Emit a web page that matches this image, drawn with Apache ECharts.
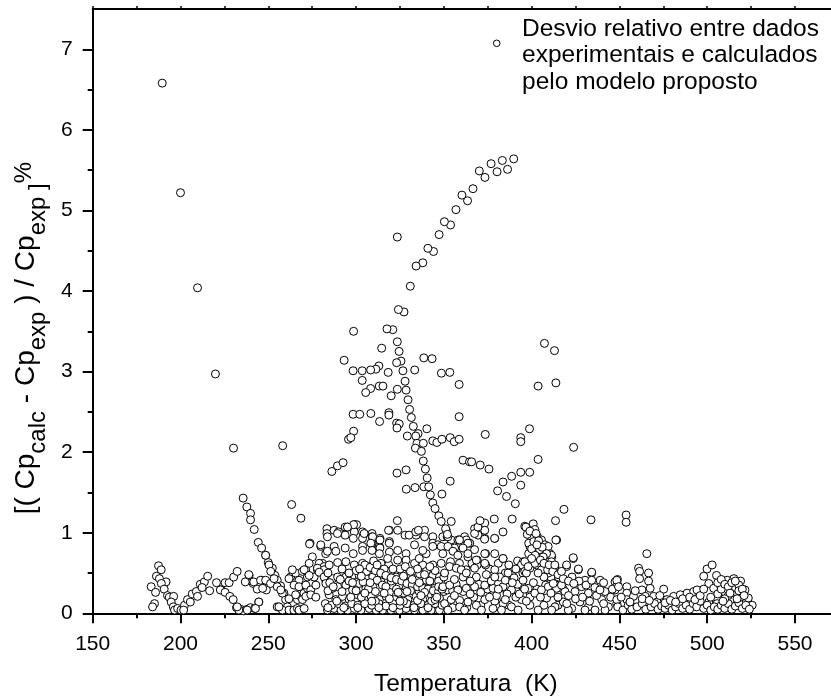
<!DOCTYPE html>
<html><head><meta charset="utf-8">
<script src="https://cdn.jsdelivr.net/npm/echarts@6/dist/echarts.min.js"></script>
<style>html,body{margin:0;padding:0;background:#fff}#c{width:831px;height:698px}</style>
</head><body><div id="c"></div>
<script>
// ---- tick labels / axis values ----
const xMajorTicks = [150,200,250,300,350,400,450,500,550];
const xMinorTicks = [175,225,275,325,375,425,475,525];
const xTopTicks = [150,175,200,225,250,275,300,325,350,375,400,425,450,475,500,525,550];
const yMajorTicks = [0,1,2,3,4,5,6,7];
const yMinorTicks = [0.5,1.5,2.5,3.5,4.5,5.5,6.5];
const seriesName = 'Desvio relativo entre dados experimentais e calculados pelo modelo proposto';
const legendLines = ['Desvio relativo entre dados','experimentais e calculados','pelo modelo proposto'];
const xTitle = 'Temperatura  (K)';

// ---- data: [Temperatura (K), desvio %] ----
const upperOutliers = [[189.6,6.58],[200,5.22],[209.7,4.04],[219.9,2.97],[230.2,2.05],[258.2,2.08],[263.3,1.35],[268.6,1.18],[273.5,0.86]];
const upperTrail = [[389.8,5.64],[383.3,5.62],[386.3,5.51],[380.3,5.48],[376.9,5.58],[373.4,5.41],[370.2,5.49],[366.6,5.27],[363.5,5.12],[360.3,5.19],[356.9,5.01],[353.8,4.82],[350.3,4.86],[347.3,4.70],[344.1,4.49],[340.9,4.53],[338,4.35],[334.2,4.31],[330.9,4.06],[323.5,4.67],[327.3,3.74],[324.1,3.77],[320.9,3.52],[317.6,3.53],[298.6,3.50],[323.5,3.37],[314.6,3.29],[324.5,3.25],[293.2,3.14],[325.6,3.13],[323.1,3.11],[313,3.07],[311.3,3.03],[308.3,3.02],[303.5,3.01],[298.3,3.01],[318.3,2.99],[326.7,3.01],[333.4,3.02],[338.6,3.17],[343.3,3.16],[348.6,2.98],[353.4,2.99],[358.7,2.84],[303.5,2.89],[308.3,2.79],[305.5,2.74],[313.2,2.82],[315.3,2.82],[323.5,2.78],[327.9,2.88],[328.5,2.77],[320,2.70]];
const middleCluster = [[329.6,2.65],[330.5,2.53],[331.5,2.43],[332.6,2.32],[335.3,2.23],[329.2,2.20],[334,2.2],[334.7,2.11],[338.3,2.11],[333.8,2.05],[337.2,2.01],[338.3,1.89],[339.5,1.79],[340.5,1.68],[338.6,1.57],[341.4,1.57],[342.3,1.47],[343.7,1.37],[345,1.3],[347.1,1.21],[348.5,1.14],[351,1.05],[352,0.98],[358.7,2.44],[360.9,1.90],[364.6,1.88],[353.6,1.64],[348.9,1.48],[340.3,2.29],[343.7,2.14],[346,2.12],[348.9,2.16],[353.6,2.18],[355.9,2.13],[358.7,2.16],[323.1,2.36],[324.6,2.35],[323.3,2.30],[318.7,2.49],[318.7,2.46],[313.4,2.38],[308.4,2.48],[298.3,2.47],[302.1,2.47],[298.6,2.26],[295.7,2.16],[297,2.18],[286.2,1.76],[289.4,1.83],[292.6,1.87],[323.3,1.74],[328.5,1.78],[328.6,1.54],[333.6,1.56],[323.5,1.15]];
const rightCluster = [[403.7,2.82],[413.8,2.86],[407.3,3.35],[413,3.26],[373.6,2.22],[393.8,2.18],[393.8,2.13],[398.8,2.29],[423.9,2.06],[403.7,1.91],[365.8,1.88],[370.7,1.84],[375.7,1.79],[380.6,1.52],[385.7,1.45],[390.7,1.36],[383.7,1.63],[388.6,1.70],[393.8,1.75],[398.9,1.75],[393.8,1.59],[418.4,1.29],[413.6,1.15],[433.8,1.16],[453.8,1.22],[453.8,1.13],[465.6,0.74],[378.7,1.17],[388.9,1.17],[370.6,1.15],[354.2,1.14]];
const lowLeft = [[183.3,0.33],[185.8,0.26],[185.2,0.12],[184.1,0.08],[187.5,0.59],[189,0.54],[186.3,0.46],[188,0.43],[191.8,0.39],[189.1,0.37],[190.7,0.30],[192.6,0.22],[193.6,0.20],[196.1,0.21],[194.7,0.14],[195.9,0.08],[196.6,0.04],[198.4,0.06],[200.3,0.04],
[202.3,0.10],[201.8,0.04],[204,0.17],[205.6,0.14],[206.7,0.24],[209,0.27],[209.7,0.21],[211.3,0.36],[213.6,0.39],[212.3,0.32],[215.5,0.46],[216.6,0.28],[220.5,0.38],[223.1,0.29],[225.4,0.38],[227.7,0.38],[230.3,0.45],[232.3,0.52],
[222.7,0.29],[225.4,0.26],[228.1,0.21],[230,0.17],[231.9,0.07],[234.2,0.05],[236.1,0.03],[238,0.05],[239.9,0.07],[242.2,0.06],[244.6,0.14],
[236.9,0.39],[239.1,0.47],[241.4,0.37],[243.7,0.30],[246.3,0.41],[247.5,0.40],[248.9,0.29],[246.8,0.31]];
const trail235 = [[235.7,1.43],[237.8,1.32],[239.9,1.24],[239.9,1.16],[242,1.04],[244.3,0.88],[246.2,0.81],[248.5,0.72],[250,0.63],[252.3,0.56],[253.8,0.47],[255.1,0.41],[257,0.34],[258.9,0.25],[259.9,0.17],[260.9,0.08]];
const lowMidLeft = [[238.9,0.48],[241.7,0.39],[245.6,0.41],[248.5,0.41],[251.3,0.37],[255.1,0.33],[258,0.25],[244.6,0.14],[242.7,0.06],[238,0.04],[233.2,0.04],[232.3,0.08],[255.1,0.08],[258,0.04],[261.8,0.04],[264.6,0.04],[266.6,0.06],[266.6,0.17],[268.5,0.21],[270.3,0.25],[272.3,0.31],[274.2,0.37],[276.1,0.45],[278,0.54],[280.9,0.62],[262.7,0.45],[265.6,0.50],[267.5,0.41],[269.4,0.52],[271.3,0.54],[272.3,0.45],[278,0.56],[279,0.62],[281.8,0.58],[282.7,0.41]];
const band250to350 = [[283.4,1.05],[283.4,0.99],[287.5,1.03],[290,1.01],[293.8,1.07],[295.2,1.07],[297.1,1.07],[299,1.10],[300.3,1.10],[299,1.01],[303.7,1.01],[293.8,0.97],[298.4,0.93],[303.7,0.93],[309.1,0.99],[309.1,0.95],[313.6,0.93],[319,1.03],[319,0.89],[309.1,0.87],[313.3,0.83],[334.2,0.97],[339,1.03],[339,0.95],[343.7,0.95],[343.7,0.87],
[327.9,0.97],[330.2,0.97],[334,1.01],[335.5,1.03],[346.6,0.85],[349.4,0.95],[351.9,0.95],[354.2,0.91],[356.1,0.81],[353.8,0.64],[358.6,0.91],[361.8,0.95],[364.6,0.87],[363.7,0.79],[339.9,0.74],[323.7,1.03],[318.9,0.87],[313.6,0.91],[313.6,0.81],[309.4,0.95],[308.4,0.87],[304.6,0.99],[303.7,0.83],[298.6,1.10],[295.1,1.07],[289.4,0.99],[287.5,0.83],[283.7,0.95],[282.7,0.74],[279.9,0.83],[273.8,0.87],[275.1,0.70],[318.5,1.03],
[279.9,0.85],[283.7,0.77],[288.5,0.77],[293.8,0.81],[298.4,0.74],[303.7,0.78],[309.1,0.78],[313.3,0.74],[319,0.76],[323.7,0.78],[328.5,0.74],[333.3,0.85],[338,0.78],[343.7,0.83],[348.5,0.83],[349.4,0.74],
[248.5,0.72],[250.4,0.60],[273.3,0.62],[278,0.56],[281.8,0.54],[284.7,0.60],[289.5,0.63],[294.2,0.64],[299,0.60],[303.7,0.62],[307.5,0.58],[309.5,0.56],[314.2,0.62],[318.6,0.60],[323.7,0.66],[328.5,0.66],[333.3,0.62],[338,0.60],[343.7,0.60],[348.5,0.62],
[251.4,0.52],[263.7,0.54],[270.4,0.54],[273.3,0.47],[279,0.51],[281.8,0.45],[286.6,0.43],[289.5,0.45],[294.2,0.45],[298,0.47],[301.8,0.47],[305.6,0.43],[309.5,0.45],[313.3,0.47],[318,0.52],[322.8,0.45],[326.6,0.49],[331.4,0.45],[336.2,0.49],[340,0.52],[343.7,0.47],[347.5,0.45],
[253.3,0.43],[257.1,0.29],[261.8,0.43],[264.7,0.35],[267.5,0.33],[271.4,0.35],[274.2,0.29],[277.1,0.35],[282.8,0.37],[286.6,0.31],[289.5,0.33],[294.2,0.35],[298,0.29],[301.8,0.37],[305.6,0.31],[309.5,0.33],[314.2,0.39],[317.1,0.29],[320.9,0.33],[324.7,0.35],[328.5,0.31],[333.3,0.33],[338,0.33],[341.8,0.35],[344.7,0.31],[348.5,0.37],
[261.8,0.18],[265.6,0.23],[269.5,0.17],[271.4,0.21],[274.2,0.23],[277.1,0.20],[284.7,0.23],[288.5,0.17],[292.3,0.21],[296.1,0.17],[300.9,0.23],[304.7,0.17],[308.5,0.21],[313.3,0.17],[317.1,0.21],[321.8,0.17],[325.6,0.23],[329.5,0.17],[334.2,0.21],[338,0.17],[342.8,0.23],[347.5,0.19],
[256.1,0.08],[267.5,0.04],[270.4,0.06],[283.7,0.04],[287.5,0.06],[291.4,0.04],[295.2,0.04],[299,0.06],[302.8,0.04],[307.5,0.06],[311.4,0.04],[315.2,0.04],[319.9,0.04],[324.7,0.04],[328.5,0.06],[333.3,0.04],[338,0.04],[342.8,0.04],[347.5,0.04],
[282.5,0.12],[286,0.10],[290,0.12],[294,0.09],[297.5,0.12],[301,0.10],[305,0.12],[309,0.10],[313,0.12],[317,0.09],[321,0.12],[325,0.10],[329,0.12],[333,0.10],[337,0.12],[341,0.10],[345,0.12],[349,0.10],
[284,0.28],[292,0.27],[300,0.28],[311,0.27],[319,0.26],[327,0.25],[336,0.27],[345,0.25],
[285,0.38],[296,0.40],[304,0.39],[312,0.41],[320,0.40],[330,0.39],[340,0.41],[347,0.40],
[284,0.5],[292,0.55],[300,0.53],[306,0.52],[316,0.55],[325,0.55],[335,0.55],[345,0.53],
[305,0.6],[308,0.57],[311,0.53],[314,0.5],[317,0.47],[320,0.44],[323,0.42],[326,0.4],[329,0.37],[332,0.35],[335,0.33],[338,0.31],[341,0.3],[344,0.28],[347,0.27],[350,0.27],[352,0.29],[355,0.28],[358,0.3],[361,0.27],
[303,0.2],[307,0.3],[311,0.15],[315,0.35],[319,0.18],[323,0.3],[327,0.15],[331,0.28],[335,0.16],[339,0.26],[343,0.15],[347,0.33],[298,0.38],[302,0.55],[310,0.65],[318,0.68],[328,0.58],[336,0.68],[342,0.4],[331,0.52]];
const denseCore = [[284,0.07],[289,0.15],[293,0.07],[297,0.2],[301,0.07],[305,0.25],[309,0.15],[313,0.07],[317,0.33],[321,0.07],[325,0.15],[329,0.27],[333,0.07],[337,0.22],[341,0.07],[345,0.17],[349,0.3],
[287,0.33],[291,0.42],[296,0.5],[303,0.46],[308,0.38],[312,0.6],[316,0.25],[321,0.55],[324,0.26],[327,0.46],[332,0.42],[336,0.38],[339,0.48],[342,0.58],[346,0.2],[350,0.45],
[355,0.07],[359,0.16],[363,0.07],[367,0.2],[371,0.1],[375,0.3],[379,0.15],[383,0.22],[387,0.1],[391,0.3],[395,0.22],[399,0.2],[403,0.3],[407,0.1],[411,0.4],[415,0.1],[419,0.2],
[357,0.36],[361,0.45],[366,0.62],[370,0.36],[376,0.55],[381,0.62],[385,0.5],[389,0.47],[392,0.65],[395,0.5],[408,0.35],[411,0.45],[414,0.35],[418,0.3]];
const band350to450 = [[351.4,1.03],[352.3,0.95],[358,0.91],[362.8,0.91],[364.7,0.87],[367.5,1.05],[369.5,0.97],[373.3,1.12],[373.3,1.03],[373.3,0.93],[379,0.93],[383.7,1.01],[396.1,1.08],[414.2,0.91],
[358.9,0.91],[363.7,0.87],[367.5,0.99],[369.4,1.07],[373.2,0.92],[378.9,0.93],[383.7,0.68],[373.8,0.74],[373.8,0.60],[369,0.66],[369,0.60],[362.7,0.54],[358.9,0.62],[363.7,0.70],
[352.3,0.83],[355.2,0.77],[358,0.72],[360.9,0.81],[363.7,0.74],[367.5,0.79],[368.5,0.66],[373.3,0.74],[379,0.74],[383.7,0.68],[395.2,0.64],[399,0.83],[399.9,0.77],[403.7,0.83],[405.6,0.77],[407.5,0.72],[410.4,0.74],[411.4,0.70],[423.7,0.68],
[350.4,0.50],[353.3,0.58],[357.1,0.56],[359.9,0.54],[362.8,0.50],[367.5,0.56],[368.5,0.45],[373.3,0.62],[374.2,0.48],[379,0.54],[381.8,0.45],[386.6,0.50],[394.2,0.60],[396.1,0.52],[399,0.56],[402.8,0.60],[405.6,0.54],[409.5,0.50],[413.3,0.56],[415.2,0.45],[419.9,0.58],[426.6,0.54],[430.4,0.41],[434.2,0.50],[439,0.41],[447.5,0.39],
[349.5,0.33],[353.3,0.35],[358,0.29],[362.8,0.31],[367.5,0.33],[373.3,0.35],[378,0.31],[383.7,0.33],[388.5,0.29],[394.2,0.35],[398,0.31],[401.8,0.25],[405.6,0.29],[409.5,0.33],[414.2,0.31],[419,0.27],[424.7,0.27],[428.5,0.33],[432.3,0.25],[438,0.29],[441.8,0.27],[447.5,0.29],
[350.4,0.12],[354.2,0.17],[359,0.08],[363.7,0.14],[368.5,0.10],[373.3,0.17],[378,0.06],[383.7,0.12],[388.5,0.08],[394.2,0.17],[399,0.10],[403.7,0.04],[408.5,0.19],[413.3,0.08],[418,0.14],[422.8,0.06],[427.5,0.14],[432.3,0.08],[436.1,0.04],[439.9,0.17],[443.7,0.08],[448.5,0.12],[352.3,0.04],[361.8,0.04],[371.4,0.04],[382.8,0.04],[392.3,0.04],[411.4,0.04],[420.9,0.04],[430.4,0.04],[441.8,0.04],
[356,0.22],[365,0.24],[371,0.26],[380,0.22],[386,0.24],[391,0.2],[356,0.42],[365,0.4],[377,0.4],[385,0.41],[390,0.44],[392,0.36],
[421,0.22],[425,0.18],[429,0.2],[433,0.15],[437,0.22],[441,0.12],[445,0.2],[423,0.45],[427,0.4],[431,0.35],[436,0.32],[441,0.38],[446,0.3],
[381,0.3],[385,0.17],[389,0.38],[393,0.24],[397,0.15],[401,0.38],[405,0.2],[407,0.45],[411,0.25],[415,0.2],[417,0.35],[420,0.12],[379,0.45],[376,0.2],[387,0.6],[391,0.55]];
const peak400 = [[400.9,1.11],[401.8,1.04],[399.9,0.95],[403.3,0.95],[405.6,0.91],[398.3,0.87],[407.5,0.85],[404.6,0.79],[409.4,0.83],[396.1,0.64],[395.1,0.41],[398.3,0.74],[401.8,0.62],[403.7,0.50],[411.3,0.72],[411.3,0.64],[413.2,0.58],[413.8,0.91],[401.2,0.89],[396.7,1.07],[408.5,0.74],[406.6,0.70],[409.1,0.54],[397.5,0.98],[399,1.02],[402.5,0.99],[404,0.9],[406,0.82],[400,0.8],[402,0.72],[405,0.66],[407,0.62],[410,0.6],[412,0.52],[415,0.48],[418,0.43],[421,0.4],[424,0.37],[397,0.5],[398,0.58],[396,0.3],[400,0.68],[403,0.85],
[423.7,0.69],[426.6,0.55],[434.2,0.51],[434.2,0.41],[438.9,0.29],[448.9,0.42],[448.9,0.36],[419.9,0.60],[413.2,0.60],[417,0.52],[412.3,0.37]];
const band450to527 = [[448.5,0.41],[449.5,0.33],[454.2,0.33],[454.2,0.25],[448.5,0.17],[454.2,0.17],[458,0.21],[460.9,0.56],[461.5,0.52],[461.5,0.43],[462.8,0.29],[466.6,0.50],[466.6,0.40],[467.5,0.31],[464.7,0.21],[469.5,0.21],[475.2,0.30],[471.4,0.14],[477.1,0.17],[480.9,0.21],[484.7,0.23],[488.5,0.25],[492.3,0.27],[494.2,0.29],[498,0.46],[499.9,0.55],[502.8,0.60],[505.3,0.47],[500.9,0.37],[503.7,0.31],[507.5,0.35],[509.5,0.27],[511.4,0.41],[515.2,0.43],[519,0.40],[514.2,0.29],[517.1,0.25],[521.5,0.29],[523.4,0.19],[525.6,0.10],[513.3,0.17],[505.6,0.12],[500.9,0.14],
[449,0.08],[452,0.04],[455,0.1],[457,0.05],[460,0.08],[463,0.12],[465,0.05],[468,0.08],[470,0.12],[472,0.05],[474,0.09],[476,0.06],[478,0.1],[480,0.04],[482,0.08],[484,0.12],[486,0.06],[488,0.1],[490,0.05],[492,0.12],[494,0.08],[496,0.15],[498,0.06],[500,0.1],[502,0.04],[504,0.08],[506,0.05],[508,0.1],[510,0.06],[512,0.12],[514,0.05],[516,0.09],[518,0.13],[520,0.06],[522,0.1],[524,0.05],[519,0.2],[516,0.32],[518,0.35],[512,0.22],
[451,0.2],[456,0.14],[459,0.28],[463,0.18],[467,0.16],[473,0.22],[476,0.13],[479,0.16],[482,0.14],[486,0.18],[490,0.2],[493,0.17],[496,0.22],[498,0.3],[502,0.2],[506,0.24],[510,0.18],[508,0.3],
[506,0.38],[508,0.42],[510,0.36],[512,0.33],[514,0.38],[516,0.4],[518,0.28],[520,0.3],[521,0.22],[517,0.18],[513,0.25],[509,0.15]];

const allPoints = [].concat(lowLeft, trail235, lowMidLeft, band250to350, denseCore, band350to450, peak400, band450to527, middleCluster, rightCluster, upperTrail, upperOutliers);

const FONT = '"Liberation Sans", Arial, Helvetica, sans-serif';
const chart = echarts.init(document.getElementById('c'), null, {renderer: 'canvas'});
const common = {min:150, max:575, gridIndex:0};
chart.setOption({
  animation: false,
  backgroundColor: '#fff',
  grid: {left: 92.7, top: 9, right: -7.9, bottom: 84.7, containLabel: false, outerBoundsMode: 'none'},
  xAxis: [
    Object.assign({type:'value', position:'bottom', interval:50,
      name: xTitle, nameLocation:'middle', nameGap: 58,
      nameTextStyle:{fontFamily:FONT, fontSize:24.5, color:'#000'},
      axisLine:{show:true, onZero:false, lineStyle:{color:'#000', width:2}},
      axisTick:{show:true, inside:false, length:10, customValues:xMajorTicks, lineStyle:{color:'#000', width:2}},
      axisLabel:{show:true, margin:20, customValues:xMajorTicks, fontFamily:FONT, fontSize:21, color:'#000'},
      splitLine:{show:false}}, common),
    Object.assign({type:'value', position:'bottom', interval:25,
      axisLine:{show:false, onZero:false},
      axisTick:{show:true, length:5, customValues:xMinorTicks, lineStyle:{color:'#000', width:2}},
      axisLabel:{show:false}, splitLine:{show:false}}, common),
    Object.assign({type:'value', position:'top', interval:25,
      axisLine:{show:true, onZero:false, lineStyle:{color:'#000', width:2}},
      axisTick:{show:true, length:3, customValues:xTopTicks, lineStyle:{color:'#000', width:1.5}},
      axisLabel:{show:false}, splitLine:{show:false}}, common)
  ],
  yAxis: [
    {type:'value', min:0, max:7.5, interval:1, position:'left', gridIndex:0,
      name:'{n|[( Cp}{s|calc}{n| - Cp}{s|exp}{n| ) / Cp}{s|exp ]}{p|%}',
      nameLocation:'middle', nameGap:45,
      nameTextStyle:{fontFamily:FONT, color:'#000', padding:[0,54,0,0],
        rich:{
          n:{fontFamily:FONT, fontSize:28, lineHeight:31, color:'#000'},
          s:{fontFamily:FONT, fontSize:24, lineHeight:27, color:'#000', padding:[24,0,0,0]},
          p:{fontFamily:FONT, fontSize:24, lineHeight:27, color:'#000', padding:[0,0,4,0]}
        }},
      axisLine:{show:true, onZero:false, lineStyle:{color:'#000', width:2}},
      axisTick:{show:true, length:10, customValues:yMajorTicks, lineStyle:{color:'#000', width:2}},
      axisLabel:{show:true, margin:20, customValues:yMajorTicks, fontFamily:FONT, fontSize:21, color:'#000'},
      splitLine:{show:false}},
    {type:'value', min:0, max:7.5, interval:0.5, position:'left', gridIndex:0,
      axisLine:{show:false, onZero:false},
      axisTick:{show:true, length:5, customValues:yMinorTicks, lineStyle:{color:'#000', width:2}},
      axisLabel:{show:false}, splitLine:{show:false}}
  ],
  graphic: [
    {type:'circle', shape:{cx:496.7, cy:43.3, r:3.3}, style:{fill:'#fff', stroke:'#000', lineWidth:1}, silent:true},
    {type:'text', x:522, y:15.5, silent:true,
      style:{text: legendLines.join('\n'), fontFamily:FONT, fontSize:24.5, lineHeight:26.7, fill:'#000', align:'left', verticalAlign:'top'}}
  ],
  series: [{
    name: seriesName, type:'scatter', xAxisIndex:0, yAxisIndex:0,
    symbol:'circle', symbolSize:8,
    itemStyle:{color:'#fff', borderColor:'#000', borderWidth:1, opacity:1},
    emphasis:{disabled:true},
    data: allPoints
  }]
});
</script>
</body></html>
